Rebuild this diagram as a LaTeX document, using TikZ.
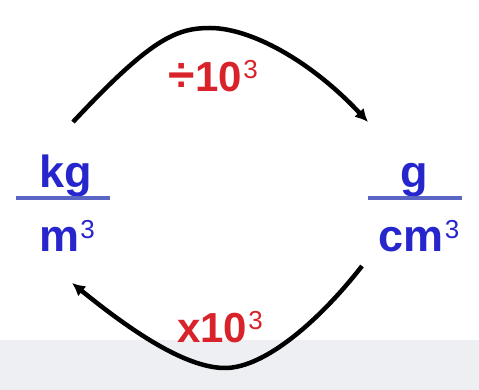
\documentclass[tikz,border=0pt]{standalone}
\usepackage{fontspec}
\setmainfont{Liberation Sans}
\usetikzlibrary{arrows.meta}
\definecolor{unitblue}{HTML}{2626CC}
\definecolor{barblue}{HTML}{5B66C4}
\definecolor{opred}{HTML}{D8232A}
\definecolor{bandgray}{HTML}{EDEFF3}
\newcommand\cubesup{\kern1pt\raisebox{13pt}{\fontsize{26}{28}\selectfont\mdseries 3}}
\begin{document}
\begin{tikzpicture}[x=1pt,y=1pt,
  unit/.style={text=unitblue, font=\fontsize{45}{50}\selectfont\bfseries, anchor=base, inner sep=0pt},
  op/.style={text=opred, font=\fontsize{42}{48}\selectfont\bfseries, anchor=base, inner sep=0pt},
  bar/.style={draw=barblue, line width=3.5pt},
  arc/.style={line width=4.5pt, -{Latex[length=13pt,width=13pt]}}]
\useasboundingbox (0,0) rectangle (479,390);
\fill[white] (0,0) rectangle (479,390);
\fill[bandgray] (0,0) rectangle (479,50);
% left fraction
\node[unit] (kg) at (66,202) {kg};
\coordinate (lbarL) at (16,192);
\coordinate (lbarR) at (110,192);
\draw[bar] (lbarL) -- (lbarR);
\node[unit] (m3) at (67,138) {m\cubesup};
% right fraction
\node[unit] (g) at (414,202) {g};
\coordinate (rbarL) at (368,192);
\coordinate (rbarR) at (462,192);
\draw[bar] (rbarL) -- (rbarR);
\node[unit] (cm3) at (419,138) {cm\cubesup};
% arcs
\coordinate (topS) at (73,268);
\coordinate (topE) at (368,268);
\coordinate (botS) at (362,124);
\coordinate (botE) at (72,107);
\draw[arc] (topS) .. controls (150,350) and (175,362) .. (210,362)
  .. controls (250,362) and (310,330) .. (topE);
\draw[arc] (botS) .. controls (320,70) and (265,22) .. (225,22)
  .. controls (185,22) and (130,60) .. (botE);
% operations
\node[op] (div) at (213,298) {{\fontsize{48}{50}\selectfont ÷}\kern1pt10\cubesup};
\node[op] (mul) at (220,47) {x10\cubesup};
\end{tikzpicture}
\end{document}
